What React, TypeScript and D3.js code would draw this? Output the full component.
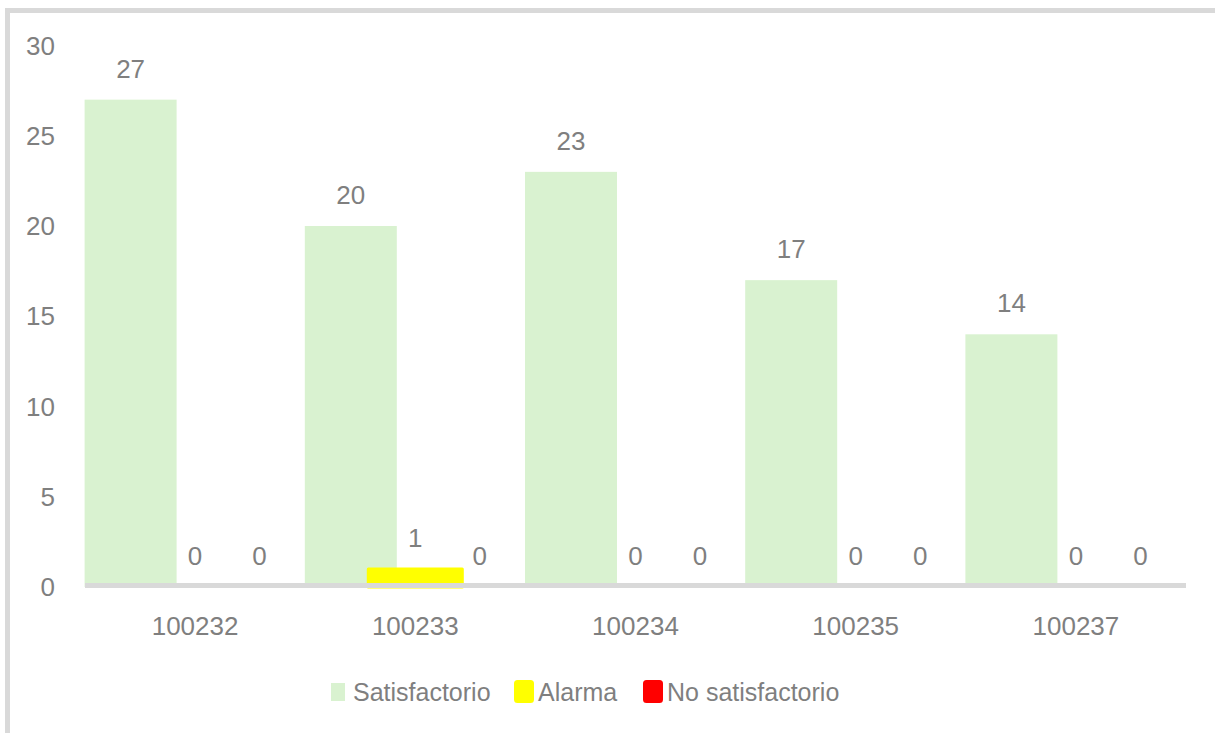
import React from "react";
import * as d3 from "d3";

const categories = ["100232", "100233", "100234", "100235", "100237"];
const seriesNames = ["Satisfactorio", "Alarma", "No satisfactorio"];
const satisfactorio = [27, 20, 23, 17, 14];
const alarma = [0, 1, 0, 0, 0];
const noSatisfactorio = [0, 0, 0, 0, 0];
const yTicks = [0, 5, 10, 15, 20, 25, 30];

const colors = ["#d9f2d0", "#ffff00", "#ff0000"];
const strokes = [0, 3, 3];

const App = () => {
  const width = 1215;
  const height = 733;
  const left = 85;
  const right = 1186;
  const yBase = 587;
  const yTop = 45.5;
  const barW = 92;
  const font = "'Liberation Sans', Arial, sans-serif";
  const textColor = "#7f7f7f";

  const series = [satisfactorio, alarma, noSatisfactorio];

  const x = d3.scaleBand().domain(categories).range([left, right]).padding(0);
  const y = d3.scaleLinear().domain([0, 30]).range([yBase, yTop]);
  const offset = d3.scalePoint().domain(seriesNames).range([-64.5, 64.5]);

  const legendX = [331, 514, 643];

  return (
    <svg width={width} height={height} style={{ position: "absolute", left: 0, top: 0 }}>
      <rect x={0} y={0} width={width} height={height} fill="#ffffff" />
      {/* frame */}
      <rect x={5} y={8} width={width - 5} height={5} fill="#d9d9d9" />
      <rect x={5} y={8} width={5} height={height - 8} fill="#d9d9d9" />

      {yTicks.map((t) => (
        <text key={t} x={55} y={y(t) + 9} textAnchor="end" fontSize={26} fontFamily={font} fill={textColor}>
          {t}
        </text>
      ))}

      {categories.map((c, i) => {
        const cx = (x(c) as number) + x.bandwidth() / 2;
        return (
          <g key={c}>
            {series.map((vals, j) => {
              const v = vals[i];
              const mid = cx + (offset(seriesNames[j]) as number);
              const sw = strokes[j];
              const w = sw ? 94 : barW;
              return (
                <g key={j}>
                  {v > 0 && (
                    <rect
                      x={mid - w / 2}
                      y={y(v)}
                      width={w}
                      height={yBase - y(v)}
                      fill={colors[j]}
                      stroke={sw ? colors[j] : "none"}
                      strokeWidth={sw}
                      strokeLinejoin="round"
                    />
                  )}
                  <text
                    x={mid}
                    y={y(v) - 22}
                    textAnchor="middle"
                    fontSize={26}
                    fontFamily={font}
                    fill={textColor}
                  >
                    {v}
                  </text>
                </g>
              );
            })}
            <text x={cx} y={635} textAnchor="middle" fontSize={26} fontFamily={font} fill={textColor}>
              {c}
            </text>
          </g>
        );
      })}

      <rect x={left} y={583} width={right - left} height={5} fill="#d9d9d9" />

      {seriesNames.map((s, j) => {
        const lx = legendX[j];
        const sw = strokes[j];
        return (
          <g key={s}>
            {sw ? (
              <rect x={lx + 1.5} y={681.5} width={17} height={20} rx={2} fill={colors[j]} stroke={colors[j]} strokeWidth={sw} strokeLinejoin="round" />
            ) : (
              <rect x={lx} y={683} width={14} height={18} fill={colors[j]} />
            )}
            <text x={lx + (sw ? 24 : 22)} y={701} fontSize={25} fontFamily={font} fill={textColor}>
              {s}
            </text>
          </g>
        );
      })}
    </svg>
  );
};

export default App;
